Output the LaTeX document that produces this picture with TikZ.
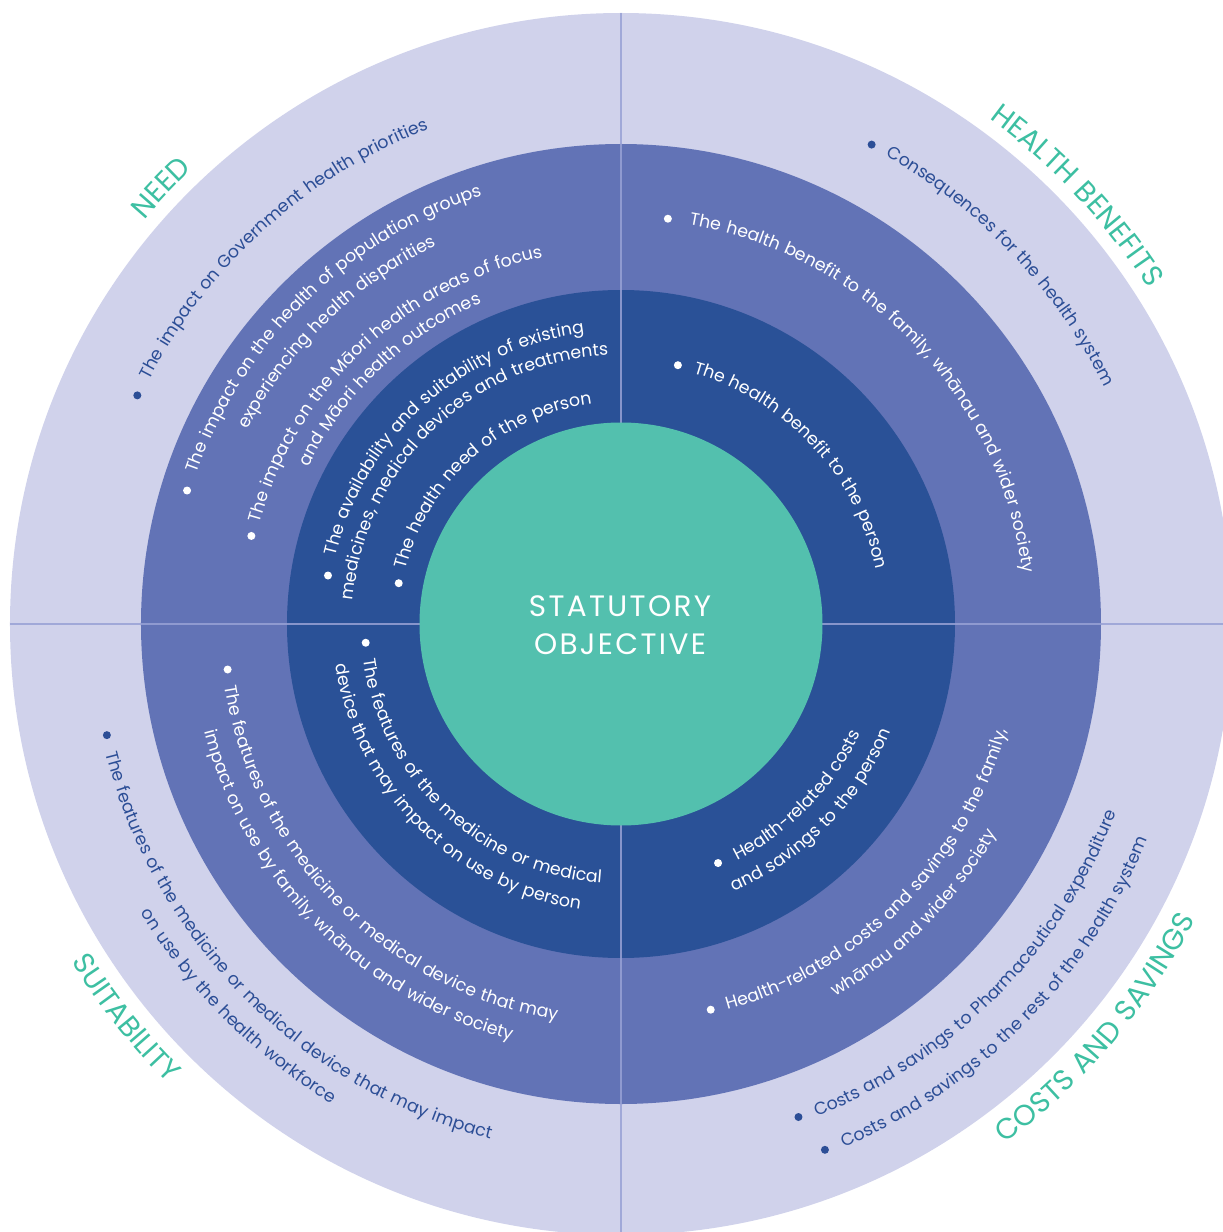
\documentclass[tikz,border=0pt]{standalone}
\usepackage{fontspec}
\setmainfont{Poppins}
\newfontfamily\bodyfam[LetterSpace=6]{Poppins}
\newfontfamily\labelfam[LetterSpace=4]{Poppins}
\newfontfamily\corefam[LetterSpace=8]{Poppins}
\usetikzlibrary{decorations.text}
\definecolor{ringOuter}{HTML}{D0D2EB}
\definecolor{ringMid}{HTML}{6273B6}
\definecolor{ringInner}{HTML}{2A5197}
\definecolor{coreTeal}{HTML}{53C0AE}
\definecolor{labelTeal}{HTML}{3DBFA2}
\definecolor{darkText}{HTML}{2C4E96}
\definecolor{divider}{HTML}{98A1D5}
\newcommand\bodyfont{\bodyfam\fontsize{17.4}{20}\selectfont}
\newcommand\labelfont{\labelfam\fontsize{29}{32}\selectfont}
% #1 baseline radius, #2 middle angle, #3 text, #4 format
\newcommand\arcTop[4]{\path[decorate,decoration={text along path,text align=center,text={|#4|#3}}] ({#2+90}:#1) arc[start angle={#2+90},end angle={#2-90},radius=#1];}
\newcommand\arcBot[4]{\path[decorate,decoration={text along path,text align=center,text={|#4|#3}}] ({#2-90}:#1) arc[start angle={#2-90},end angle={#2+90},radius=#1];}
\newcommand\dotAt[3]{\fill[#3] (#1:#2) circle[radius=4];}
\begin{document}
\begin{tikzpicture}[x=1pt,y=1pt]
\useasboundingbox (-621,-608) rectangle (602,624);
\clip (-621,-608) rectangle (602,624);
\fill[ringOuter] (0,0) circle[radius=611];
\fill[ringMid] (0,0) circle[radius=480];
\fill[ringInner] (0,0) circle[radius=334];
\coordinate (top) at (0,611);
\coordinate (bottom) at (0,-611);
\coordinate (left) at (-611,0);
\coordinate (right) at (611,0);
\draw[divider,line width=1.6pt,opacity=0.85] (top) -- (bottom);
\draw[divider,line width=1.6pt,opacity=0.85] (left) -- (right);
\fill[coreTeal] (0,0) circle[radius=201.5];
\node[anchor=base,text=white,font=\corefam\fontsize{29.5}{34}\selectfont] (core1) at (-1,8) {STATUTORY};
\node[anchor=base,text=white,font=\corefam\fontsize{29.5}{34}\selectfont] (core2) at (-1,-30) {OBJECTIVE};
% labels
\arcTop{625}{136.5}{NEED}{\labelfont\color{labelTeal}}
\arcTop{625}{43.2}{HEALTH BENEFITS}{\labelfont\color{labelTeal}}
\arcBot{645}{218.5}{SUITABILITY}{\labelfont\color{labelTeal}}
\arcBot{646}{-40.4}{COSTS AND SAVINGS}{\labelfont\color{labelTeal}}
% NEED quadrant
\arcTop{531}{131.95}{The impact on Government health priorities}{\bodyfont\color{darkText}}
\dotAt{154.7}{535}{darkText}
\arcTop{450}{134.25}{The impact on the health of population groups}{\bodyfont\color{white}}
\arcTop{421}{134.25}{experiencing health disparities}{\bodyfont\color{white}}
\dotAt{162.9}{454}{white}
\arcTop{375}{133.25}{The impact on the Māori health areas of focus}{\bodyfont\color{white}}
\arcTop{350}{133.4}{and Māori health outcomes}{\bodyfont\color{white}}
\dotAt{166.6}{380}{white}
\arcTop{293}{131.9}{The availability and suitability of existing}{\bodyfont\color{white}}
\arcTop{269}{133.9}{medicines, medical devices and treatments}{\bodyfont\color{white}}
\dotAt{170.6}{297}{white}
\arcTop{222}{131.7}{The health need of the person}{\bodyfont\color{white}}
\dotAt{169.6}{226}{white}
% HEALTH BENEFITS quadrant
\arcTop{538}{43.3}{Consequences for the health system}{\bodyfont\color{darkText}}
\dotAt{62.4}{541}{darkText}
\arcTop{405}{43.75}{The health benefit to the family, whānau and wider society}{\bodyfont\color{white}}
\dotAt{83.4}{408}{white}
\arcTop{261}{43}{The health benefit to the person}{\bodyfont\color{white}}
\dotAt{77.6}{265}{white}
% SUITABILITY quadrant
\arcBot{260}{226.75}{The features of the medicine or medical}{\bodyfont\color{white}}
\arcBot{288}{224.95}{device that may impact on use by person}{\bodyfont\color{white}}
\dotAt{184.2}{256}{white}
\arcBot{401}{224.85}{The features of the medicine or medical device that may}{\bodyfont\color{white}}
\arcBot{430}{224.85}{impact on use by family, whānau and wider society}{\bodyfont\color{white}}
\dotAt{186.6}{396}{white}
\arcBot{531}{224.9}{The features of the medicine or medical device that may impact}{\bodyfont\color{darkText}}
\arcBot{560}{224.95}{on use by the health workforce}{\bodyfont\color{darkText}}
\dotAt{192.2}{526}{darkText}
% COSTS AND SAVINGS quadrant
\arcBot{263}{-44.2}{Health-related costs}{\bodyfont\color{white}}
\arcBot{290}{-44.45}{and savings to the person}{\bodyfont\color{white}}
\dotAt{-67.9}{258}{white}
\arcBot{400}{-45}{Health-related costs and savings to the family,}{\bodyfont\color{white}}
\arcBot{430}{-44.6}{whānau and wider society}{\bodyfont\color{white}}
\dotAt{-76.9}{396}{white}
\arcBot{530}{-44.6}{Costs and savings to Pharmaceutical expenditure}{\bodyfont\color{darkText}}
\dotAt{-70.2}{524}{darkText}
\arcBot{569}{-44.6}{Costs and savings to the rest of the health system}{\bodyfont\color{darkText}}
\dotAt{-68.8}{564}{darkText}
\end{tikzpicture}
\end{document}
